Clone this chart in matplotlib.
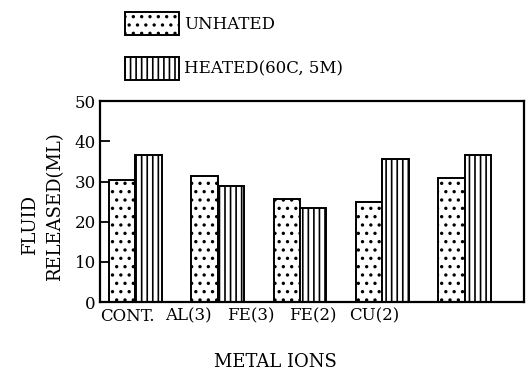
import numpy as np
import matplotlib.pyplot as plt

plt.rcParams['font.family'] = 'DejaVu Serif'
plt.rcParams['hatch.linewidth'] = 1.2

ions = ["CONT.", "AL(3)", "FE(3)", "FE(2)", "CU(2)"]
unheated = [30.3, 31.5, 25.6, 25.0, 31.0]
heated = [36.5, 29.0, 23.4, 35.5, 36.5]
labels = ["UNHATED", "HEATED(60C, 5M)"]

fig = plt.figure(figsize=(5.26, 3.72), dpi=100)
ax = fig.add_axes([0.190, 0.188, 0.806, 0.540])

x = np.arange(len(ions))
w = 0.32
b1 = ax.bar(x - w/2, unheated, w, color="white", edgecolor="black",
            linewidth=1.4, hatch="..", label=labels[0])
b2 = ax.bar(x + w/2, heated, w, color="white", edgecolor="black",
            linewidth=1.4, hatch="|||", label=labels[1])

ax.set_xlim(-0.43, 4.72)
ax.set_ylim(0, 50)
ax.set_yticks([0, 10, 20, 30, 40, 50])
ax.tick_params(axis="y", direction="in", length=7, width=1.3, labelsize=12, pad=3)
# category labels sit a bit left of the bars in the original
ax.set_xticks(np.arange(len(ions)) * 0.75 - 0.1)
ax.set_xticklabels(ions, fontsize=12)
ax.tick_params(axis="x", length=0, pad=4)
for s in ax.spines.values():
    s.set_linewidth(1.6)

fig.text(0.057, 0.395, "FLUID", rotation=90, fontsize=13, ha="center", va="center")
fig.text(0.105, 0.444, "RELEASED(ML)", rotation=90, fontsize=13, ha="center", va="center")
fig.text(0.523, 0.027, "METAL IONS", fontsize=13, ha="center", va="center")

fig.legend(handles=[b1, b2], loc="upper left", bbox_to_anchor=(0.238, 0.968),
           frameon=False, fontsize=12, handlelength=3.2, handleheight=1.75,
           labelspacing=1.3, handletextpad=0.35, borderpad=0, borderaxespad=0)

fig.savefig("out.png", dpi=100)
